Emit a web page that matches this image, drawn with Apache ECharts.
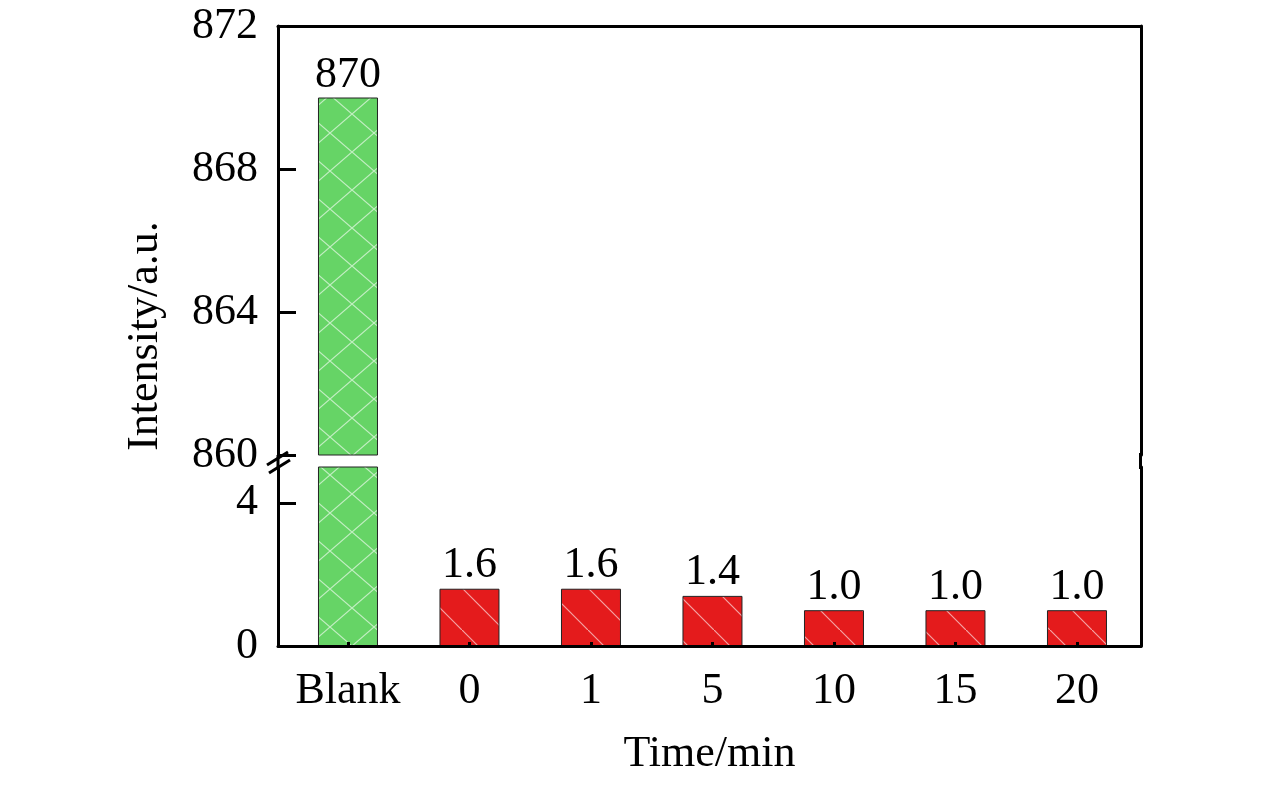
<!DOCTYPE html>
<html>
<head>
<meta charset="utf-8">
<script src="https://cdn.jsdelivr.net/npm/echarts@6/dist/echarts.min.js"></script>
<style>
  html, body { margin: 0; padding: 0; background: #fff; }
  #chart { width: 1276px; height: 787px; }
</style>
</head>
<body>
<div id="chart"></div>
<script>
// data
const categories = ['Blank', '0', '1', '5', '10', '15', '20'];
const intensity = [870, 1.6, 1.6, 1.4, 1.0, 1.0, 1.0];
const upperTicks = [860, 864, 868, 872];
const lowerTicks = [0, 4];

const FONT = 'Liberation Serif';
const FS = 44;
const positions = categories.map((c, i) => i);
const xMin = -0.576, xMax = 6.527;

// hatch patterns
function makePattern(w, h, bg, line, cross) {
  const c = document.createElement('canvas');
  c.width = w; c.height = h;
  const ctx = c.getContext('2d');
  ctx.fillStyle = bg;
  ctx.fillRect(0, 0, w, h);
  ctx.strokeStyle = line;
  ctx.lineWidth = 1.2;
  ctx.beginPath();
  ctx.moveTo(0, 0); ctx.lineTo(w, h);
  if (cross) { ctx.moveTo(w, 0); ctx.lineTo(0, h); }
  ctx.stroke();
  return { image: c, repeat: 'repeat' };
}
const greenFill = makePattern(44, 38, '#66d466', 'rgba(255,255,255,0.6)', true);
const redFill = makePattern(42, 42, '#e41b1c', 'rgba(255,255,255,0.6)', false);

const blankData = positions.map(i => (i === 0 ? [i, intensity[i]] : [i, '-']));
const timeData = positions.map(i => (i === 0 ? [i, '-'] : [i, intensity[i]]));

const fmt = p => (p.value[1] >= 100 ? String(p.value[1]) : p.value[1].toFixed(1));

const lineStyle = { color: '#000', width: 3 };
const textStyle = { fontFamily: FONT, fontSize: FS, color: '#000' };

const chart = echarts.init(document.getElementById('chart'));
chart.setOption({
  animation: false,
  backgroundColor: '#fff',
  grid: [
    { left: 278, right: 135, top: 26, bottom: 332 },
    { left: 278, right: 135, top: 467, bottom: 141 }
  ],
  xAxis: [
    {
      type: 'value', gridIndex: 0, position: 'top', min: xMin, max: xMax, z: 10,
      axisLine: { show: true, onZero: false, lineStyle },
      axisTick: { show: false }, axisLabel: { show: false }, splitLine: { show: false }
    },
    {
      type: 'value', gridIndex: 1, position: 'bottom', min: xMin, max: xMax, z: 10,
      axisLine: { show: true, onZero: false, lineStyle },
      axisTick: { show: true, inside: true, length: 4, customValues: positions, lineStyle: { color: '#000', width: 3 } },
      axisLabel: { ...textStyle, margin: 23, customValues: positions, formatter: v => categories[Math.round(v)] },
      splitLine: { show: false },
      name: 'Time/min', nameLocation: 'middle', nameGap: 86, nameTextStyle: textStyle
    }
  ],
  yAxis: [
    {
      type: 'value', gridIndex: 0, position: 'left', min: 860, max: 872, interval: 4, z: 10,
      axisLine: { show: true, onZero: false, lineStyle },
      axisTick: { show: true, inside: true, length: 18, customValues: upperTicks, lineStyle: { color: '#000', width: 3 } },
      axisLabel: { ...textStyle, margin: 20, customValues: upperTicks },
      splitLine: { show: false }
    },
    {
      type: 'value', gridIndex: 0, position: 'right', min: 860, max: 872, z: 10,
      axisLine: { show: true, onZero: false, lineStyle },
      axisTick: { show: false }, axisLabel: { show: false }, splitLine: { show: false }
    },
    {
      type: 'value', gridIndex: 1, position: 'left', min: 0, max: 5, interval: 4, z: 10,
      axisLine: { show: true, onZero: false, lineStyle },
      axisTick: { show: true, inside: true, length: 18, customValues: lowerTicks, lineStyle: { color: '#000', width: 3 } },
      axisLabel: { ...textStyle, margin: 20, customValues: lowerTicks },
      splitLine: { show: false }
    },
    {
      type: 'value', gridIndex: 1, position: 'right', min: 0, max: 5, z: 10,
      axisLine: { show: true, onZero: false, lineStyle },
      axisTick: { show: false }, axisLabel: { show: false }, splitLine: { show: false }
    }
  ],
  series: [
    {
      type: 'bar', xAxisIndex: 0, yAxisIndex: 0, data: blankData, barWidth: 60,
      itemStyle: { color: greenFill, borderColor: '#222', borderWidth: 1 },
      label: { show: true, position: 'top', distance: 0, formatter: fmt, ...textStyle }
    },
    {
      type: 'bar', xAxisIndex: 1, yAxisIndex: 2, data: blankData, barWidth: 60,
      itemStyle: { color: greenFill, borderColor: '#222', borderWidth: 1 }
    },
    {
      type: 'bar', xAxisIndex: 1, yAxisIndex: 2, data: timeData, barWidth: 60, barGap: '-100%',
      itemStyle: { color: redFill, borderColor: '#222', borderWidth: 1 },
      label: { show: true, position: 'top', distance: 1, formatter: fmt, ...textStyle }
    }
  ]
});

// axis break decorations, placed from the axis scales
const top860 = chart.convertToPixel({ xAxisIndex: 0, yAxisIndex: 0 }, [xMin, 860]);
const rightTop = chart.convertToPixel({ xAxisIndex: 0, yAxisIndex: 0 }, [xMax, 860]);
const low5 = chart.convertToPixel({ xAxisIndex: 1, yAxisIndex: 2 }, [xMin, 5]);
const ax = top860[0], yb = top860[1];
const rx = Math.round(rightTop[0]) - 0.5;
chart.setOption({
  graphic: [
    { type: 'line', z: 20, shape: { x1: ax, y1: yb, x2: ax, y2: low5[1] }, style: { stroke: '#000', lineWidth: 3 } },
    { type: 'line', z: 20, shape: { x1: rx, y1: yb - 2, x2: rx, y2: low5[1] + 2 }, style: { stroke: '#000', lineWidth: 3 } },
    { type: 'line', z: 20, shape: { x1: ax - 11, y1: yb + 10, x2: ax + 10, y2: yb - 3 }, style: { stroke: '#000', lineWidth: 3 } },
    { type: 'line', z: 20, shape: { x1: ax - 9, y1: yb + 18, x2: ax + 12, y2: yb + 5 }, style: { stroke: '#000', lineWidth: 3 } },
    {
      type: 'text', x: 145, y: (26 + 646) / 2, rotation: Math.PI / 2,
      style: { text: 'Intensity/a.u.', font: FS + 'px "Liberation Serif"', fill: '#000', align: 'center', verticalAlign: 'middle' }
    }
  ]
});
</script>
</body>
</html>
